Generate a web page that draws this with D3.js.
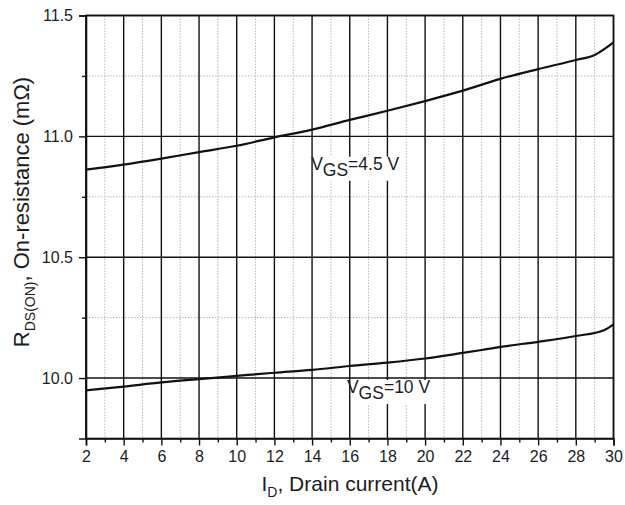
<!DOCTYPE html>
<html>
<head>
<meta charset="utf-8">
<script src="https://cdn.jsdelivr.net/npm/d3@7"></script>
<style>
  html, body { margin: 0; padding: 0; background: #fff; }
  svg { display: block; font-family: "Liberation Sans", Arial, sans-serif; }
</style>
</head>
<body>
<svg id="chart" width="625" height="505"></svg>
<script>
// ---- data ----
const xTickValues = [2, 4, 6, 8, 10, 12, 14, 16, 18, 20, 22, 24, 26, 28, 30];
const xMinorValues = [3, 5, 7, 9, 11, 13, 15, 17, 19, 21, 23, 25, 27, 29];
const yTickValues = [10.0, 10.5, 11.0, 11.5];
const yMinorValues = [10.25, 10.75, 11.25];

const vgs45Current = [2, 4, 6, 8, 10, 12, 14, 16, 18, 20, 22, 24, 26, 28, 29, 30];
const vgs45Resistance = [10.862, 10.883, 10.908, 10.935, 10.961, 10.996, 11.028, 11.068, 11.106, 11.146, 11.189, 11.238, 11.278, 11.316, 11.337, 11.389];

const vgs10Current = [2, 4, 6, 8, 10, 12, 14, 16, 18, 20, 22, 23, 24, 26, 28, 29.5, 30];
const vgs10Resistance = [9.949, 9.965, 9.982, 9.996, 10.009, 10.022, 10.034, 10.05, 10.064, 10.081, 10.104, 10.116, 10.129, 10.15, 10.174, 10.198, 10.222];

const seriesLabels = [
  { sub: "GS", rest: "=4.5 V", x: 13.95, y: 10.862 },
  { sub: "GS", rest: "=10 V", x: 15.85, y: 9.938 }
];

// ---- layout ----
const svg = d3.select("#chart");
const L = 86, R = 613.5, T = 15.5, B = 438.5;
const x = d3.scaleLinear().domain([2, 30]).range([L, R]);
const y = d3.scaleLinear().domain([9.75, 11.5]).range([B, T]);
const textColor = "#1c1c24";

// minor grid (dotted)
svg.append("g").selectAll("line").data(xMinorValues).join("line")
  .attr("x1", d => x(d)).attr("x2", d => x(d)).attr("y1", T).attr("y2", B)
  .attr("stroke", "#b8b8b8").attr("stroke-width", 1).attr("stroke-dasharray", "1.5,1.5");
svg.append("g").selectAll("line").data(yMinorValues).join("line")
  .attr("x1", L).attr("x2", R).attr("y1", d => y(d)).attr("y2", d => y(d))
  .attr("stroke", "#b8b8b8").attr("stroke-width", 1).attr("stroke-dasharray", "1.5,1.5");

// major grid
svg.append("g").selectAll("line").data(xTickValues).join("line")
  .attr("x1", d => x(d)).attr("x2", d => x(d)).attr("y1", T).attr("y2", B)
  .attr("stroke", "#111").attr("stroke-width", 1.4);
svg.append("g").selectAll("line").data(yTickValues).join("line")
  .attr("x1", L).attr("x2", R).attr("y1", d => y(d)).attr("y2", d => y(d))
  .attr("stroke", "#111").attr("stroke-width", 1.4);

// frame
svg.append("rect").attr("x", L).attr("y", T).attr("width", R - L).attr("height", B - T)
  .attr("fill", "none").attr("stroke", "#111").attr("stroke-width", 1.6);

// axes
svg.append("g").attr("transform", `translate(0,${B})`)
  .call(d3.axisBottom(x).tickValues(xTickValues).tickSize(7).tickPadding(5).tickFormat(d3.format("d")));
svg.append("g").attr("transform", `translate(0,${B})`)
  .call(d3.axisBottom(x).tickValues(xMinorValues).tickSize(4).tickFormat(""))
  .call(g => g.select(".domain").remove());
svg.append("g").attr("transform", `translate(${L},0)`)
  .call(d3.axisLeft(y).tickValues(yTickValues).tickSize(7).tickPadding(6).tickFormat(d3.format(".1f")));
svg.append("g").attr("transform", `translate(${L},0)`)
  .call(d3.axisLeft(y).tickValues(yMinorValues).tickSize(4).tickFormat(""))
  .call(g => g.select(".domain").remove());

svg.selectAll(".domain").attr("stroke", "#111").attr("stroke-width", 1.6);
svg.selectAll(".tick line").attr("stroke", "#111").attr("stroke-width", 1.4);
svg.selectAll(".tick text").attr("fill", textColor)
  .style("font-family", "'Liberation Sans', Arial, sans-serif").style("font-size", "16px");

// curves
const line = d3.line().x(d => x(d[0])).y(d => y(d[1])).curve(d3.curveMonotoneX);
const s45 = vgs45Current.map((c, i) => [c, vgs45Resistance[i]]);
const s10 = vgs10Current.map((c, i) => [c, vgs10Resistance[i]]);
[s45, s10].forEach(s => {
  svg.append("path").datum(s).attr("d", line)
    .attr("fill", "none").attr("stroke", "#111").attr("stroke-width", 2.2);
});

// series labels (with white backing behind the text after the "V")
seriesLabels.forEach(lb => {
  const g = svg.append("g");
  const bg = g.append("rect").attr("fill", "#fff");
  const t = g.append("text").attr("x", x(lb.x)).attr("y", y(lb.y))
    .attr("fill", textColor).style("font-size", "17.5px");
  const v = t.append("tspan").text("V");
  t.append("tspan").attr("dy", 6).text(lb.sub);
  t.append("tspan").attr("dy", -6).text(lb.rest);
  const bb = t.node().getBBox();
  const vw = v.node().getComputedTextLength();
  bg.attr("x", bb.x + vw + 0.5).attr("y", bb.y + 3)
    .attr("width", bb.width - vw + 1).attr("height", bb.height - 2);
});

// x axis title
const xt = svg.append("text").attr("x", 350).attr("y", 491).attr("text-anchor", "middle")
  .attr("fill", textColor).style("font-size", "21px");
xt.append("tspan").text("I");
xt.append("tspan").attr("dy", 6).style("font-size", "14px").text("D");
xt.append("tspan").attr("dy", -6).text(", Drain current(A)");

// y axis title
const yt = svg.append("text").attr("transform", "translate(29,212) rotate(-90)")
  .attr("text-anchor", "middle").attr("fill", textColor).style("font-size", "22px");
yt.append("tspan").text("R");
yt.append("tspan").attr("dy", 6).style("font-size", "14px").text("DS(ON)");
yt.append("tspan").attr("dy", -6).text(", On-resistance (mΩ)");
</script>
</body>
</html>
